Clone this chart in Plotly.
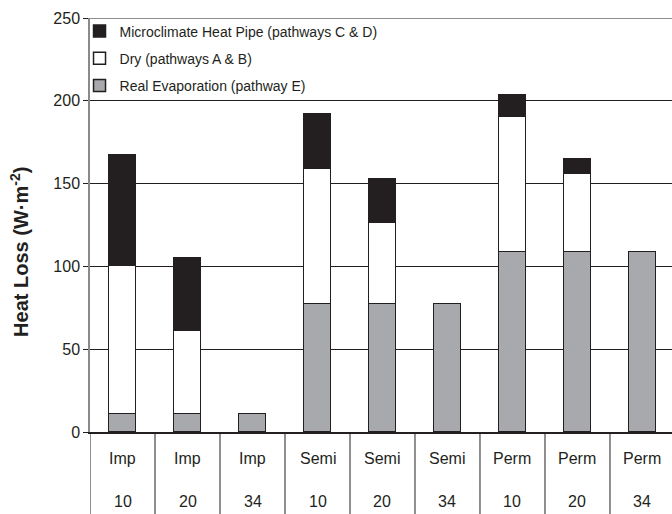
import plotly.graph_objects as go

# Surface types and sampling depths for each column
surfaces = ["Imp", "Imp", "Imp", "Semi", "Semi", "Semi", "Perm", "Perm", "Perm"]
depths = ["10", "20", "34", "10", "20", "34", "10", "20", "34"]

# Heat loss components (W·m-2)
real_evaporation = [11, 11, 11, 77, 77, 77, 108.5, 108.5, 108.5]
dry = [89, 50, 0, 82, 49, 0, 81.5, 47, 0]
heat_pipe = [67, 44, 0, 33, 27, 0, 13.7, 9.5, 0]

y_ticks = [0, 50, 100, 150, 200, 250]

INK = "#231f20"
GREY = "#a7a9ac"
FONT = "Liberation Sans, Arial, sans-serif"

x = list(range(len(surfaces)))

fig = go.Figure()
series = [
    ("Real Evaporation (pathway E)", real_evaporation, GREY, 3),
    ("Dry (pathways A & B)", dry, "#ffffff", 2),
    ("Microclimate Heat Pipe (pathways C & D)", heat_pipe, INK, 1),
]
for name, vals, color, rank in series:
    # zero-height segments are left out so their outlines don't draw
    fig.add_trace(go.Bar(
        x=x, y=[v if v else None for v in vals], name=name, width=0.41,
        legendgroup=name, legendrank=rank,
        marker=dict(color=color, line=dict(color=INK, width=1.5)),
    ))

# Table-like category label cells below the axis
shapes = []
for i in range(len(x) + 1):
    shapes.append(dict(type="line", xref="x", yref="paper",
                       x0=i - 0.5, x1=i - 0.5, y0=0, y1=-0.25,
                       line=dict(color=INK, width=1)))
shapes.append(dict(type="line", xref="paper", yref="y", x0=0, x1=1,
                   y0=250, y1=250, line=dict(color=INK, width=1.2)))

annotations = []
for i, (s, d) in enumerate(zip(surfaces, depths)):
    annotations.append(dict(x=i, y=-0.065, xref="x", yref="paper", text=s,
                            showarrow=False, yanchor="middle",
                            font=dict(family=FONT, size=16, color=INK)))
    annotations.append(dict(x=i, y=-0.167, xref="x", yref="paper", text=d,
                            showarrow=False, yanchor="middle",
                            font=dict(family=FONT, size=16, color=INK)))
annotations.append(dict(x=-70 / 582, y=0.435, xref="paper", yref="paper",
                        text="<b>Heat Loss (W·m<sup>-2</sup>)</b>",
                        textangle=-90, showarrow=False,
                        xanchor="center", yanchor="middle",
                        font=dict(family=FONT, size=20, color=INK)))

fig.update_layout(
    width=672, height=514,
    margin=dict(l=90, r=0, t=18, b=82),
    paper_bgcolor="white", plot_bgcolor="white",
    barmode="stack", bargap=0,
    font=dict(family=FONT, color=INK),
    showlegend=True,
    legend=dict(x=-0.018, y=1.006, xanchor="left", yanchor="top",
                traceorder="grouped", bgcolor="rgba(0,0,0,0)",
                font=dict(family=FONT, size=14, color=INK),
                itemwidth=30, tracegroupgap=6),
    shapes=shapes, annotations=annotations,
)
fig.update_xaxes(range=[-0.5, 8.454], showticklabels=False, ticks="",
                 showgrid=False, zeroline=False,
                 showline=True, linecolor=INK, linewidth=1.5)
fig.update_yaxes(range=[0, 250], tickvals=y_ticks, ticks="outside",
                 ticklen=5, tickcolor=INK, showgrid=True, gridcolor=INK,
                 gridwidth=1.2, zeroline=False, showline=True,
                 linecolor="#8a8a8a", linewidth=1.5,
                 tickfont=dict(family=FONT, size=16, color=INK))

fig.write_html("out.html")
